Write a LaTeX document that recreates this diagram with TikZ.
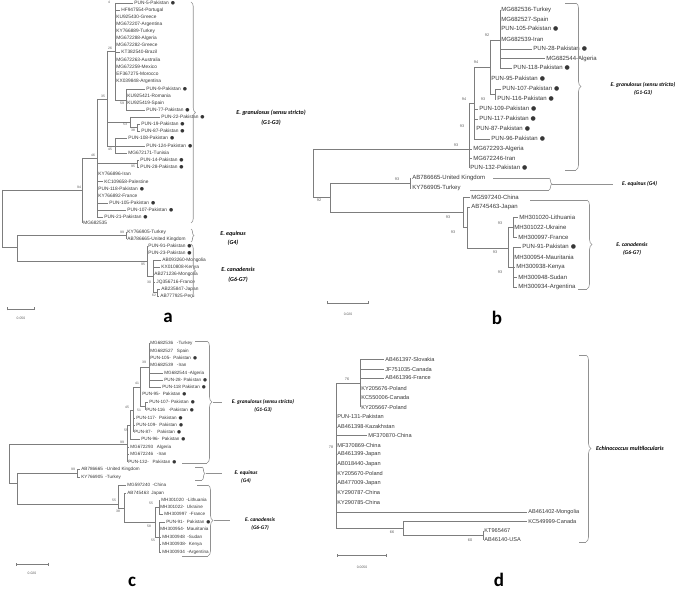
\documentclass[tikz,border=0pt]{standalone}
\usepackage{fontspec}
\setmainfont{Liberation Sans}
\newfontfamily\grpfont{Carlito}
\newfontfamily\dotfont{DejaVu Sans}
\usetikzlibrary{arrows.meta,decorations.pathreplacing}
\definecolor{branch}{RGB}{125,125,125}
\definecolor{tiptext}{RGB}{55,55,55}
\definecolor{bootgray}{RGB}{90,90,90}
\definecolor{bracegray}{RGB}{145,145,145}
\newcommand{\pk}{\hspace{2pt}{\dotfont ●}}
\newcommand{\fa}{\fontsize{4.8}{5.5}\selectfont}
\newcommand{\fb}{\fontsize{6}{7}\selectfont}
\newcommand{\fc}{\fontsize{4.6}{5.5}\selectfont}
\newcommand{\fd}{\fontsize{5.6}{6.5}\selectfont}
\newcommand{\lf}[5]{\node[leaf] (#1) at (#3,#4) {#5};\draw[br] (#2,#4) -- (#1.west);}
\begin{document}
\begin{tikzpicture}[
  x=1pt, y=-1pt,
  br/.style={draw=branch, line width=0.55pt},
  brc/.style={draw=bracegray, line width=0.6pt},
  curly/.style={brc, decorate, decoration={brace, amplitude=#1}},
  leafbase/.style={anchor=west, inner xsep=1.2pt, inner ysep=0pt, text=tiptext},
  leaf/.style={leafbase, font=\fa},
  boot/.style={inner sep=0pt, text=bootgray, font=\fontsize{3.4}{4}\selectfont},
  grp/.style={align=center, inner sep=0pt, font=\grpfont\bfseries\itshape\fontsize{6}{9.5}\selectfont},
  scalebar/.style={br, {Bar[width=3pt]}-{Bar[width=3pt]}},
  scaletext/.style={inner sep=0pt, text=bootgray, font=\fontsize{3.4}{4}\selectfont},
  letter/.style={inner sep=0pt, font=\grpfont\bfseries\fontsize{19}{19}\selectfont}
]
\useasboundingbox (0,0) rectangle (685,593);

% ---- a ----
\begin{scope}[leaf/.style={leafbase, font=\fa}]
  \draw[br] (115,3) -- (115,100);
  \draw[br] (115,100) -- (126,100);
  \draw[br] (126,89) -- (126,110);
  \draw[br] (107,51) -- (115,51);
  \draw[br] (107,51) -- (107,146);
  \draw[br] (97,99) -- (107,99);
  \draw[br] (107,122) -- (130,122);
  \draw[br] (130,117) -- (130,127.5);
  \draw[br] (130,127.5) -- (137,127.5);
  \draw[br] (137,124) -- (137,131);
  \draw[br] (107,146) -- (115,146);
  \draw[br] (115,138) -- (115,153);
  \draw[br] (97,99) -- (97,217);
  \draw[br] (82,158) -- (97,158);
  \draw[br] (97,163.5) -- (137,163.5);
  \draw[br] (137,160) -- (137,167);
  \draw[br] (82,158) -- (82,223);
  \draw[br] (2,190) -- (82,190);
  \draw[br] (2,190) -- (2,247);
  \draw[br] (2,247) -- (17,247);
  \draw[br] (17,235.5) -- (17,261);
  \draw[br] (17,235.5) -- (126,235.5);
  \draw[br] (126,232) -- (126,239);
  \draw[br] (17,261) -- (147,261);
  \draw[br] (147,246) -- (147,276);
  \draw[br] (147,276) -- (153,276);
  \draw[br] (153,260) -- (153,292);
  \draw[br] (153,292) -- (157,292);
  \draw[br] (157,289) -- (157,296);
  \lf{aL1}{115}{133}{3}{PUN-5-Pakistan\pk}
  \lf{aL2}{115}{120}{10}{HF947554-Portugal}
  \lf{aL3}{115}{115}{17}{KU925430-Greece}
  \lf{aL4}{115}{115}{24}{MG672207-Argentina}
  \lf{aL5}{115}{115}{31}{KY766889-Turkey}
  \lf{aL6}{115}{115}{38}{MG672288-Algeria}
  \lf{aL7}{115}{115}{45}{MG672282-Greece}
  \lf{aL8}{115}{120}{52}{KT382540-Brazil}
  \lf{aL9}{115}{115}{60}{MG672263-Australia}
  \lf{aL10}{115}{115}{67}{MG672259-Mexico}
  \lf{aL11}{115}{115}{74}{EF367275-Morocco}
  \lf{aL12}{115}{115}{81}{KX039848-Argentina}
  \lf{aL13}{126}{145}{89}{PUN-9-Pakistan\pk}
  \lf{aL14}{126}{126}{96}{KU925421-Romania}
  \lf{aL15}{126}{126}{103}{KU925419-Spain}
  \lf{aL16}{126}{145}{110}{PUN-77-Pakistan\pk}
  \lf{aL17}{130}{160}{117}{PUN-22-Pakistan\pk}
  \lf{aL18}{137}{140}{124}{PUN-19-Pakistan\pk}
  \lf{aL19}{137}{140}{131}{PUN-87-Pakistan\pk}
  \lf{aL20}{115}{127}{138}{PUN-108-Pakistan\pk}
  \lf{aL21}{115}{145}{146}{PUN-124-Pakistan\pk}
  \lf{aL22}{115}{127}{153}{MG672171-Tunisia}
  \lf{aL23}{137}{139}{160}{PUN-14-Pakistan\pk}
  \lf{aL24}{137}{139}{167}{PUN-28-Pakistan\pk}
  \lf{aL25}{97}{97}{174}{KY766896-Iran}
  \lf{aL26}{97}{103}{181.5}{KC109658-Palestine}
  \lf{aL27}{97}{97}{189}{PUN-118-Pakistan\pk}
  \lf{aL28}{97}{97}{196}{KY766892-France}
  \lf{aL29}{97}{108}{203}{PUN-105-Pakistan\pk}
  \lf{aL30}{97}{126}{210}{PUN-107-Pakistan\pk}
  \lf{aL31}{97}{103}{217}{PUN-21-Pakistan\pk}
  \lf{aL32}{82}{82}{223}{MG682535}
  \lf{aL33}{126}{126}{232}{KY766905-Turkey}
  \lf{aL34}{126}{126}{239}{AB786665-United Kingdom}
  \lf{aL35}{147}{147}{246}{PUN-91-Pakistan\pk}
  \lf{aL36}{147}{147}{253}{PUN-23-Pakistan\pk}
  \lf{aL37}{153}{161}{260}{AB093260-Mongolia}
  \lf{aL38}{153}{160}{267}{KX010808-Kenya}
  \lf{aL39}{153}{153}{274}{AB271236-Mongolia}
  \lf{aL40}{153}{155}{282}{JQ356716-France}
  \lf{aL41}{157}{160}{289}{AB235847-Japan}
  \lf{aL42}{157}{159}{296}{AB777925-Peru}
  \node[boot] (ab4) at (109,2) {4};
  \node[boot] (ab26) at (110,48) {26};
  \node[boot] (ab59) at (122,103) {59};
  \node[boot] (ab35) at (103,96) {35};
  \node[boot] (ab53) at (125,124) {53};
  \node[boot] (ab38) at (133,130) {38};
  \node[boot] (ab45) at (110,149) {45};
  \node[boot] (ab46) at (93,155) {46};
  \node[boot] (ab95a) at (133,166) {95};
  \node[boot] (ab94) at (79,187) {94};
  \node[boot] (ab99) at (122,232) {99};
  \node[boot] (ab95b) at (143,264) {95};
  \node[boot] (ab30) at (149,282) {30};
  \node[boot] (ab62) at (154,295) {62};
  \draw[curly=4.5pt] (191,2) -- (191,223);
  \draw[curly=3pt] (191,229) -- (191,242);
  \draw[curly=4.5pt] (191,244) -- (191,298);
  \node[grp] (ga1) at (271,117.5) {E. granulosus (sensu stricto)\\(G1-G3)};
  \node[grp] (ga2) at (233,238.5) {E. equinus\\(G4)};
  \node[grp] (ga3) at (238,275) {E. canadensis\\(G6-G7)};
  \draw[scalebar] (7,309) -- (35,309);
  \node[scaletext] (sa) at (21,318) {0.050};
  \node[letter] (la) at (168,318) {a};
\end{scope}

% ---- b ----
\begin{scope}[leaf/.style={leafbase, font=\fb}, boot/.append style={font=\fontsize{3.8}{4}\selectfont},
  grp/.append style={font=\grpfont\bfseries\itshape\fontsize{5.6}{8}\selectfont}]
  \draw[br] (500,10) -- (500,68);
  \draw[br] (490,40) -- (500,40);
  \draw[br] (490,40) -- (490,94);
  \draw[br] (474,67) -- (490,67);
  \draw[br] (490,94) -- (495,94);
  \draw[br] (495,89) -- (495,99);
  \draw[br] (474,67) -- (474,139);
  \draw[br] (469,103) -- (474,103);
  \draw[br] (469,103) -- (469,168);
  \draw[br] (313,149) -- (469,149);
  \draw[br] (313,149) -- (313,197.5);
  \draw[br] (313,197.5) -- (330,197.5);
  \draw[br] (330,183) -- (330,212);
  \draw[br] (330,183) -- (410,183);
  \draw[br] (410,178) -- (410,188);
  \draw[br] (330,212) -- (463,212);
  \draw[br] (463,197) -- (463,227.5);
  \draw[br] (463,227.5) -- (467,227.5);
  \draw[br] (467,207) -- (467,248);
  \draw[br] (467,248) -- (508,248);
  \draw[br] (508,227) -- (508,267);
  \draw[br] (508,227) -- (513,227);
  \draw[br] (513,217) -- (513,237);
  \draw[br] (508,267) -- (513,267);
  \draw[br] (513,247) -- (513,287);
  \lf{bL1}{500}{500}{10}{MG682536-Turkey}
  \lf{bL2}{500}{500}{19.5}{MG682527-Spain}
  \lf{bL3}{500}{500}{29}{PUN-105-Pakistan\pk}
  \lf{bL4}{500}{500}{39}{MG682539-Iran}
  \lf{bL5}{500}{532}{49}{PUN-28-Pakistan\pk}
  \lf{bL6}{500}{545}{58.5}{MG682544-Algeria}
  \lf{bL7}{500}{512}{68}{PUN-118-Pakistan\pk}
  \lf{bL8}{490}{490}{79}{PUN-95-Pakistan\pk}
  \lf{bL9}{495}{501}{89}{PUN-107-Pakistan\pk}
  \lf{bL10}{495}{496}{99}{PUN-116-Pakistan\pk}
  \lf{bL11}{474}{478}{109}{PUN-109-Pakistan\pk}
  \lf{bL12}{474}{478}{119}{PUN-117-Pakistan\pk}
  \lf{bL13}{474}{475}{129}{PUN-87-Pakistan\pk}
  \lf{bL14}{474}{490}{139}{PUN-96-Pakistan\pk}
  \lf{bL15}{469}{472}{149}{MG672293-Algeria}
  \lf{bL16}{469}{472}{158.5}{MG672246-Iran}
  \lf{bL17}{469}{469}{168}{PUN-132-Pakistan\pk}
  \lf{bL18}{410}{411}{178}{AB786665-United Kingdom}
  \lf{bL19}{410}{411}{188}{KY766905-Turkey}
  \lf{bL20}{463}{470}{197}{MG597240-China}
  \lf{bL21}{467}{470}{207}{AB745463-Japan}
  \lf{bL22}{513}{518}{217}{MH301020-Lithuania}
  \lf{bL23}{513}{513}{227}{MH301022-Ukraine}
  \lf{bL24}{513}{517}{237}{MH300997-France}
  \lf{bL25}{513}{521}{247}{PUN-91-Pakistan\pk}
  \lf{bL26}{513}{513}{257}{MH300954-Mauritania}
  \lf{bL27}{513}{515}{267}{MH300938-Kenya}
  \lf{bL28}{513}{517}{277}{MH300948-Sudan}
  \lf{bL29}{513}{517}{287}{MH300934-Argentina}
  \node[boot] (bb1) at (487,35) {92};
  \node[boot] (bb2) at (476,62) {94};
  \node[boot] (bb3) at (483,99) {93};
  \node[boot] (bb4) at (464,99) {94};
  \node[boot] (bb5) at (462,126) {93};
  \node[boot] (bb6) at (456,145) {93};
  \node[boot] (bb7) at (397,179) {93};
  \node[boot] (bb8) at (319,200) {92};
  \node[boot] (bb9) at (448,217) {93};
  \node[boot] (bb10) at (453,232) {93};
  \node[boot] (bb11) at (500,223) {93};
  \node[boot] (bb12) at (495,252) {93};
  \node[boot] (bb13) at (500,272) {93};
  \draw[brc] (565,3) -- (576,3);
  \draw[brc] (565,170) -- (576,170);
  \draw[curly=5pt] (576,3) -- (576,170);
  \node[grp] (gb1) at (643,89) {E. granulosus (sensu stricto)\\(G1-G3)};
  \draw[brc] (493,178) -- (549,178);
  \draw[brc] (470,190) -- (549,190);
  \draw[curly=3pt] (549,178) -- (549,190);
  \coordinate (tb2) at (552,184);
  \node[grp, anchor=west] (gb2) at (622,184) {E. equinus (G4)};
  \draw[brc] (tb2) -- (613,184);
  \draw[brc] (530,200) -- (587,200);
  \draw[brc] (578,289) -- (587,289);
  \draw[curly=5pt] (587,200) -- (587,289);
  \node[grp] (gb3) at (632,249) {E. canadensis\\(G6-G7)};
  \draw[scalebar] (327,303) -- (369,303);
  \node[scaletext] (sb) at (348,314) {0.020};
  \node[letter] (lb) at (497,318) {b};
\end{scope}

% ---- c ----
\begin{scope}[leaf/.style={leafbase, font=\fc}, grp/.append style={font=\grpfont\bfseries\itshape\fontsize{5.4}{8}\selectfont}]
  \draw[br] (149,343) -- (149,387);
  \draw[br] (140,367) -- (149,367);
  \draw[br] (140,367) -- (140,406);
  \draw[br] (133,387) -- (140,387);
  \draw[br] (140,406) -- (145,406);
  \draw[br] (145,402) -- (145,410);
  \draw[br] (133,387) -- (133,432);
  \draw[br] (130,410) -- (133,410);
  \draw[br] (130,410) -- (130,439);
  \draw[br] (127,425) -- (130,425);
  \draw[br] (127,425) -- (127,462);
  \draw[br] (9,444) -- (127,444);
  \draw[br] (9,444) -- (9,483);
  \draw[br] (9,483) -- (17,483);
  \draw[br] (17,473) -- (17,504);
  \draw[br] (17,473) -- (77,473);
  \draw[br] (77,469) -- (77,477);
  \draw[br] (17,504) -- (118,504);
  \draw[br] (118,485) -- (118,508);
  \draw[br] (118,508) -- (124,508);
  \draw[br] (124,493) -- (124,522);
  \draw[br] (124,522) -- (155,522);
  \draw[br] (155,507) -- (155,537);
  \draw[br] (155,507) -- (159,507);
  \draw[br] (159,500) -- (159,514);
  \draw[br] (155,537) -- (159,537);
  \draw[br] (159,522) -- (159,552);
  \lf{cL1}{149}{149}{343}{MG682536\ \ \ -Turkey}
  \lf{cL2}{149}{149}{351}{MG682527\ \ \ Spain}
  \lf{cL3}{149}{149}{358}{PUN-105-\ \ Pakistan\pk}
  \lf{cL4}{149}{149}{365}{MG682539\ \ \ -Iran}
  \lf{cL5}{149}{163}{373}{MG682544 -Algeria}
  \lf{cL6}{149}{163}{380}{PUN-28-\ Pakistan\pk}
  \lf{cL7}{149}{161}{387}{PUN-118\ Pakistan\pk}
  \lf{cL8}{140}{141}{394}{PUN-95-\ \ Pakistan\pk}
  \lf{cL9}{145}{148}{402}{PUN-107-\ Pakistan\pk}
  \lf{cL10}{145}{145}{410}{PUN-116\ \ \ -Pakistan\pk}
  \lf{cL11}{133}{135}{418}{PUN-117-\ \ Pakistan\pk}
  \lf{cL12}{133}{135}{425}{PUN-109-\ \ Pakistan\pk}
  \lf{cL13}{133}{133}{432}{PUN-87-\ \ \ \ Pakistan\pk}
  \lf{cL14}{130}{140}{439}{PUN-96-\ \ Pakistan\pk}
  \lf{cL15}{127}{129}{447}{MG672293\ \ \ Algeria}
  \lf{cL16}{127}{129}{454}{MG672246\ \ \ -Iran}
  \lf{cL17}{127}{127}{462}{PUN-132-\ \ \ Pakistan\pk}
  \lf{cL18}{77}{80}{469}{AB786665\ \ -United Kingdom}
  \lf{cL19}{77}{80}{477}{KY766905\ \ -Turkey}
  \lf{cL20}{118}{126}{485}{MG597240\ \ -China}
  \lf{cL21}{124}{126}{493}{AB745463\ \ Japan}
  \lf{cL22}{159}{160}{500}{MH301020\ \ -Lithuania}
  \lf{cL23}{159}{159}{507}{MH301022-\ \ Ukraine}
  \lf{cL24}{159}{163}{514}{MH300997\ \ -France}
  \lf{cL25}{159}{165}{522}{PUN-91-\ \ Pakistan\pk}
  \lf{cL26}{159}{159}{529}{MH300954-\ \ Mauritania}
  \lf{cL27}{159}{161}{537}{MH300948\ \ -Sudan}
  \lf{cL28}{159}{161}{544}{MH300938-\ \ Kenya}
  \lf{cL29}{159}{161}{552}{MH300934\ \ -Argentina}
  \node[boot] (cb1) at (144,362) {39};
  \node[boot] (cb2) at (137,383) {41};
  \node[boot] (cb3) at (139,410) {51};
  \node[boot] (cb4) at (127,407) {45};
  \node[boot] (cb5) at (126,430) {55};
  \node[boot] (cb6) at (122,442) {99};
  \node[boot] (cb7) at (73,469) {99};
  \node[boot] (cb8) at (114,500) {55};
  \node[boot] (cb9) at (118,511) {38};
  \node[boot] (cb10) at (151,503) {55};
  \node[boot] (cb11) at (149,526) {58};
  \node[boot] (cb12) at (153,540) {55};
  \draw[brc] (195,341) -- (207,341);
  \draw[brc] (182,463) -- (207,463);
  \draw[curly=5pt] (207,341) -- (207,463);
  \coordinate (tc1) at (213,402);
  \node[grp] (gc1) at (263,406) {E. granulosus (sensu stricto)\\(G1-G3)};
  \draw[brc] (tc1) -- (222,402);
  \draw[brc] (195,467) -- (202,467);
  \draw[brc] (195,480) -- (202,480);
  \draw[curly=3pt] (202,467) -- (202,480);
  \coordinate (tc2) at (206,473.5);
  \node[grp] (gc2) at (246,477.5) {E. equinus\\(G4)};
  \draw[brc] (tc2) -- (222,473.5);
  \draw[brc] (197,485) -- (208,485);
  \draw[brc] (182,556) -- (208,556);
  \draw[curly=5pt] (208,485) -- (208,556);
  \coordinate (tc3) at (214,520.5);
  \node[grp] (gc3) at (260,524.5) {E. canadensis\\(G6-G7)};
  \draw[brc] (tc3) -- (230,520.5);
  \draw[scalebar] (16,564) -- (49,564);
  \node[scaletext] (sc) at (32,573) {0.020};
  \node[letter] (lc) at (132,582) {c};
\end{scope}

% ---- d ----
\begin{scope}[leaf/.style={leafbase, font=\fd}, boot/.append style={font=\fontsize{3.8}{4}\selectfont}]
  \draw[br] (360,359) -- (360,407);
  \draw[br] (336,383) -- (360,383);
  \draw[br] (336,383) -- (336,528);
  \draw[br] (336,528) -- (403,528);
  \draw[br] (403,521) -- (403,535);
  \draw[br] (403,535) -- (483,535);
  \draw[br] (483,531) -- (483,540);
  \lf{dL1}{360}{384}{359}{AB461397-Slovakia}
  \lf{dL2}{360}{384}{369}{JF751035-Canada}
  \lf{dL3}{360}{384}{378}{AB461396-France}
  \lf{dL4}{360}{360}{388}{KY205676-Poland}
  \lf{dL5}{360}{360}{397}{KC550006-Canada}
  \lf{dL6}{360}{360}{407}{KY205667-Poland}
  \lf{dL7}{336}{336}{416}{PUN-131-Pakistan}
  \lf{dL8}{336}{336}{426}{AB461398-Kazakhstan}
  \lf{dL9}{336}{367}{435}{MF370870-China}
  \lf{dL10}{336}{336}{445}{MF370869-China}
  \lf{dL11}{336}{336}{454}{AB461399-Japan}
  \lf{dL12}{336}{336}{464}{AB018440-Japan}
  \lf{dL13}{336}{336}{473}{KY205670-Poland}
  \lf{dL14}{336}{336}{483}{AB477009-Japan}
  \lf{dL15}{336}{336}{492}{KY290787-China}
  \lf{dL16}{336}{336}{502}{KY290785-China}
  \lf{dL17}{336}{527}{512}{AB461402-Mongolia}
  \lf{dL18}{403}{527}{521}{KC549999-Canada}
  \lf{dL19}{483}{483}{531}{KT965467}
  \lf{dL20}{483}{483}{540}{AB46140-USA}
  \node[boot] (db1) at (347,379) {76};
  \node[boot] (db2) at (331,447) {78};
  \node[boot] (db3) at (392,532) {66};
  \node[boot] (db4) at (470,540) {60};
  \draw[brc] (579,355) -- (586,355);
  \draw[brc] (579,542) -- (586,542);
  \draw[curly=5pt] (586,355) -- (586,542);
  \node[grp, anchor=west] (gd1) at (596,448.5) {Echinococcus multilocularis};
  \draw[scalebar] (337,555) -- (387,555);
  \node[scaletext] (sd) at (362,567) {0.0050};
  \node[letter] (ld) at (499,580) {d};
\end{scope}
\end{tikzpicture}
\end{document}
